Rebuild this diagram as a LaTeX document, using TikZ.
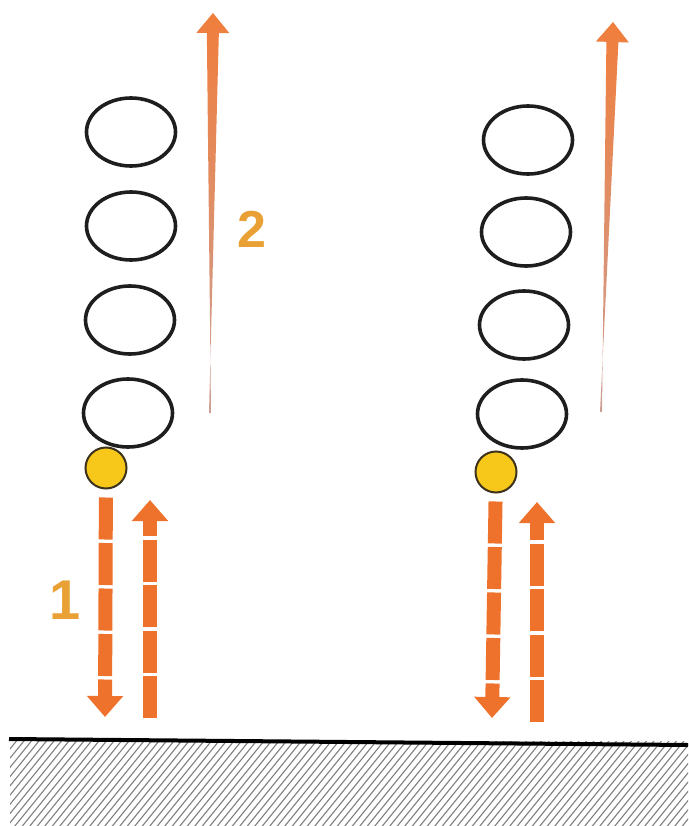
\documentclass[tikz,border=0pt]{standalone}
\usepackage{fontspec}
\setmainfont{Liberation Sans}
\usetikzlibrary{arrows.meta,calc,shapes.geometric}
\definecolor{arrorange}{RGB}{238,114,44}
\definecolor{thinorange}{RGB}{240,126,60}
\definecolor{thintail}{RGB}{205,160,150}
\definecolor{ballyellow}{RGB}{247,200,26}
\definecolor{balledge}{RGB}{60,50,30}
\definecolor{labelgold}{RGB}{233,160,52}
\definecolor{ringblack}{RGB}{30,30,30}
\newcommand{\taperarrow}[3]{% #1 tail, #2 tip, #3 id
  \path ($(#2)!20pt!(#1)$) coordinate (hb#3);
  \shade[top color=thinorange, middle color=thinorange, bottom color=thintail]
    ($(#1)!1pt!90:(#2)$) -- ($(hb#3)!6pt!-90:(#2)$) -- ($(hb#3)!16.5pt!-90:(#2)$)
    -- (#2) -- ($(hb#3)!16.5pt!90:(#2)$) -- ($(hb#3)!6pt!90:(#2)$)
    -- ($(#1)!1pt!-90:(#2)$) -- cycle;
}
\begin{document}
\begin{tikzpicture}[x=1pt,y=-1pt,
  ring/.style={ellipse, draw=ringblack, line width=3.6pt, minimum width=89pt, minimum height=68pt, inner sep=0pt},
  ball/.style={circle, draw=balledge, fill=ballyellow, line width=2pt, minimum size=41pt, inner sep=0pt},
  dasharrow/.style={draw=arrorange, line width=14pt, dash pattern=on 42pt off 3.5pt,
    -{Triangle[width=35pt,length=21pt,fill=arrorange]}},
  numlabel/.style={text=labelgold, font=\bfseries, inner sep=0pt},
  hatchline/.style={draw=black!50, line width=1.1pt}
]
\useasboundingbox (0,0) rectangle (688,826);
\fill[white] (0,0) rectangle (688,826);

% ground hatch
\begin{scope}
  \clip (10,741) rectangle (688,826);
  \foreach \k in {-15,...,95} {
    \draw[hatchline] ({10+7.5*\k},832) -- ++(78,-96);
  }
\end{scope}
\draw[black, line width=4pt] (9,739) -- (688,745);

% left column rings
\node[ring] (rL1) at (131,132) {};
\node[ring] (rL2) at (131,226) {};
\node[ring] (rL3) at (130,320) {};
\node[ring] (rL4) at (128,413) {};
% right column rings
\node[ring] (rR1) at (528,140) {};
\node[ring] (rR2) at (526,232) {};
\node[ring] (rR3) at (524,325) {};
\node[ring] (rR4) at (522,414) {};

% balls
\node[ball] (bL) at (106,468) {};
\node[ball] (bR) at (496,472) {};

% dashed arrows
\coordinate (dL) at (105,717);
\coordinate (uLs) at (150,718);
\coordinate (uLe) at (150,500);
\draw[dasharrow, shorten <=8pt] (bL) -- (dL);
\draw[dasharrow] (uLs) -- (uLe);

\coordinate (dR) at (492,718);
\coordinate (uRs) at (537,722);
\coordinate (uRe) at (537,502);
\draw[dasharrow, shorten <=8pt] (bR) -- (dR);
\draw[dasharrow] (uRs) -- (uRe);

% thin tapered arrows
\coordinate (tLtail) at (210,413);
\coordinate (tLtip) at (213,13);
\taperarrow{tLtail}{tLtip}{L}
\coordinate (tRtail) at (601,412);
\coordinate (tRtip) at (613,22);
\taperarrow{tRtail}{tRtip}{R}

% labels
\node[numlabel, font=\fontsize{52}{52}\selectfont\bfseries] (n2) at (252,229) {2};
\node[numlabel, font=\fontsize{56}{56}\selectfont\bfseries] (n1) at (65,600) {1};
\end{tikzpicture}
\end{document}
